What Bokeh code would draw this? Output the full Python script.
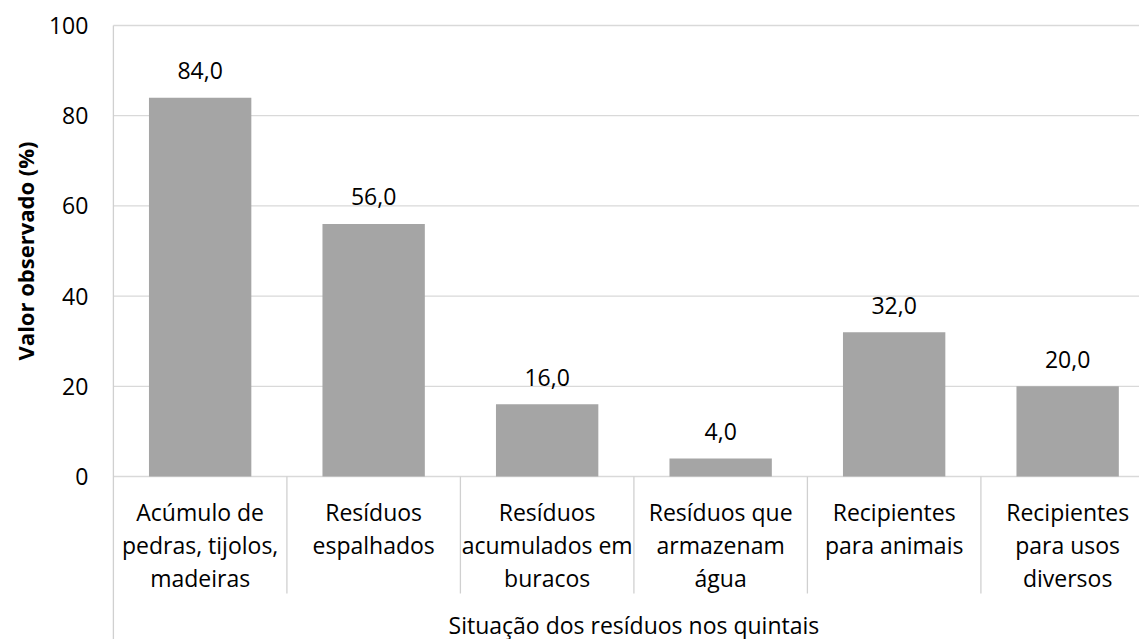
from bokeh.plotting import figure
from bokeh.models import ColumnDataSource, Range1d
from bokeh.core.properties import value
from bokeh.embed import file_html
from bokeh.resources import INLINE
import math

categories = [
    "Acúmulo de\npedras, tijolos,\nmadeiras",
    "Resíduos\nespalhados",
    "Resíduos\nacumulados em\nburacos",
    "Resíduos que\narmazenam\nágua",
    "Recipientes\npara animais",
    "Recipientes\npara usos\ndiversos",
]
values = [84.0, 56.0, 16.0, 4.0, 32.0, 20.0]
y_ticks = [0, 20, 40, 60, 80, 100]
y_title = "Valor observado (%)"
x_title = "Situação dos resíduos nos quintais"

FONT = "Open Sans"
FS = "23px"
BAR = "#A5A5A5"
GRID = "#D9D9D9"
SEP = "#D0D0D0"

n = len(categories)
xs = [i + 0.5 for i in range(n)]
labels = [f"{v:.1f}".replace(".", ",") for v in values]
tick_labels = [str(t) for t in y_ticks]

W, H = 1139, 639
px_per_unit = 451 / 100.0
y0_px = 476.0
cat_px = 173.5
x0_px = 112.9

p = figure(width=W, height=H, output_backend="svg", toolbar_location=None,
           x_range=Range1d(-x0_px / cat_px, (W - x0_px) / cat_px),
           y_range=Range1d(-(H - y0_px) / px_per_unit, y0_px / px_per_unit),
           min_border=0)
p.outline_line_color = None
p.background_fill_color = "white"
p.border_fill_color = "white"
p.axis.visible = False
p.grid.visible = False

# gridlines
xmax = (W - x0_px) / cat_px
p.segment(x0=[0] * len(y_ticks), y0=y_ticks, x1=[xmax] * len(y_ticks), y1=y_ticks,
          line_color=GRID, line_width=1.3)

# y tick labels
p.text(x=[0] * len(y_ticks), y=y_ticks, text=tick_labels, text_font=value(FONT), text_font_size=FS,
       text_align="right", text_baseline="middle", x_offset=-25, text_color="black")

# y title
p.text(x=[0], y=[(y_ticks[0] + y_ticks[-1]) / 2], text=[y_title], angle=math.pi / 2,
       text_font=value(FONT), text_font_size="22px", text_font_style="bold",
       text_align="center", text_baseline="middle", x_offset=-88, text_color="black")

src = ColumnDataSource(dict(x=xs, top=values, lab=labels, cat=categories))
p.vbar(x="x", top="top", bottom=0, width=0.59, source=src, fill_color=BAR, line_color=None)

p.text(x="x", y="top", text="lab", source=src, text_font=value(FONT), text_font_size=FS,
       text_align="center", text_baseline="middle", y_offset=-27, text_color="black")

p.text(x="x", y=0, text="cat", source=src, text_font=value(FONT), text_font_size=FS,
       text_align="center", text_baseline="top", y_offset=19, text_color="black",
       text_line_height=1.04)

# category separators
sep_bottom = -(593 - y0_px) / px_per_unit
ybottom = -(H - y0_px) / px_per_unit
p.segment(x0=list(range(1, n)), y0=[0] * (n - 1), x1=list(range(1, n)), y1=[sep_bottom] * (n - 1),
          line_color=SEP, line_width=1.3)
p.segment(x0=[0], y0=[ybottom], x1=[0], y1=[y_ticks[-1]], line_color=SEP, line_width=1.3)

p.text(x=[n / 2], y=[0], text=[x_title], text_font=value(FONT), text_font_size=FS,
       text_align="center", text_baseline="middle", y_offset=148, text_color="black")

open("out.html", "w").write(file_html(p, INLINE))
